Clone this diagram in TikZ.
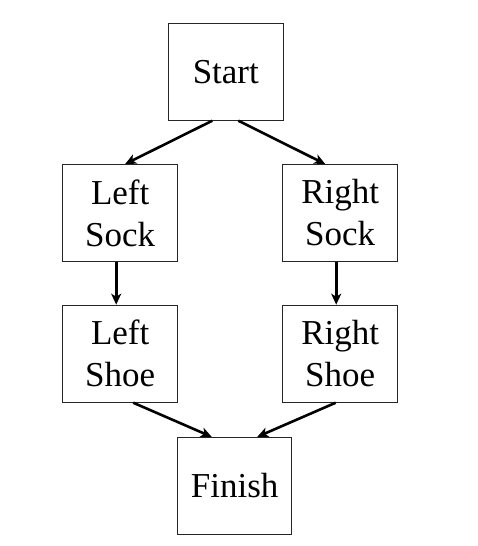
\documentclass[tikz,border=0pt]{standalone}
\usepackage{fontspec}
\setmainfont{Liberation Serif}
\usetikzlibrary{arrows.meta,calc}
\tikzset{
  box/.style={draw=black!85, line width=1pt, minimum width=115pt, minimum height=97pt, inner sep=0pt, align=center, font=\fontsize{35}{42}\selectfont},
  arr/.style={line width=2.6pt, -{Stealth[length=11pt,width=10pt,inset=3pt]}}
}
\begin{document}
\begin{tikzpicture}[x=1pt,y=-1pt]
\useasboundingbox (0,0) rectangle (478,546);
\node[box] (start) at (225.8,71.7) {Start};
\node[box] (lsock) at (120.2,213) {Left\\Sock};
\node[box] (rsock) at (340.2,213) {Right\\Sock};
\node[box] (lshoe) at (120.2,353.7) {Left\\Shoe};
\node[box] (rshoe) at (340.2,353.7) {Right\\Shoe};
\node[box, minimum width=114pt] (finish) at (234.7,485.8) {Finish};
\draw[arr] ([xshift=-13.5pt]start.south) -- ([xshift=5pt]lsock.north);
\draw[arr] ([xshift=12.5pt]start.south) -- ([xshift=-15pt]rsock.north);
\draw[arr] ([xshift=-4pt]lsock.south) -- ([xshift=-4pt]lshoe.north);
\draw[arr] ([xshift=-4pt]rsock.south) -- ([xshift=-4pt]rshoe.north);
\draw[arr] ([xshift=13pt]lshoe.south) -- ([xshift=-23pt]finish.north);
\draw[arr] ([xshift=-4.5pt]rshoe.south) -- ([xshift=22.6pt]finish.north);
\end{tikzpicture}
\end{document}
